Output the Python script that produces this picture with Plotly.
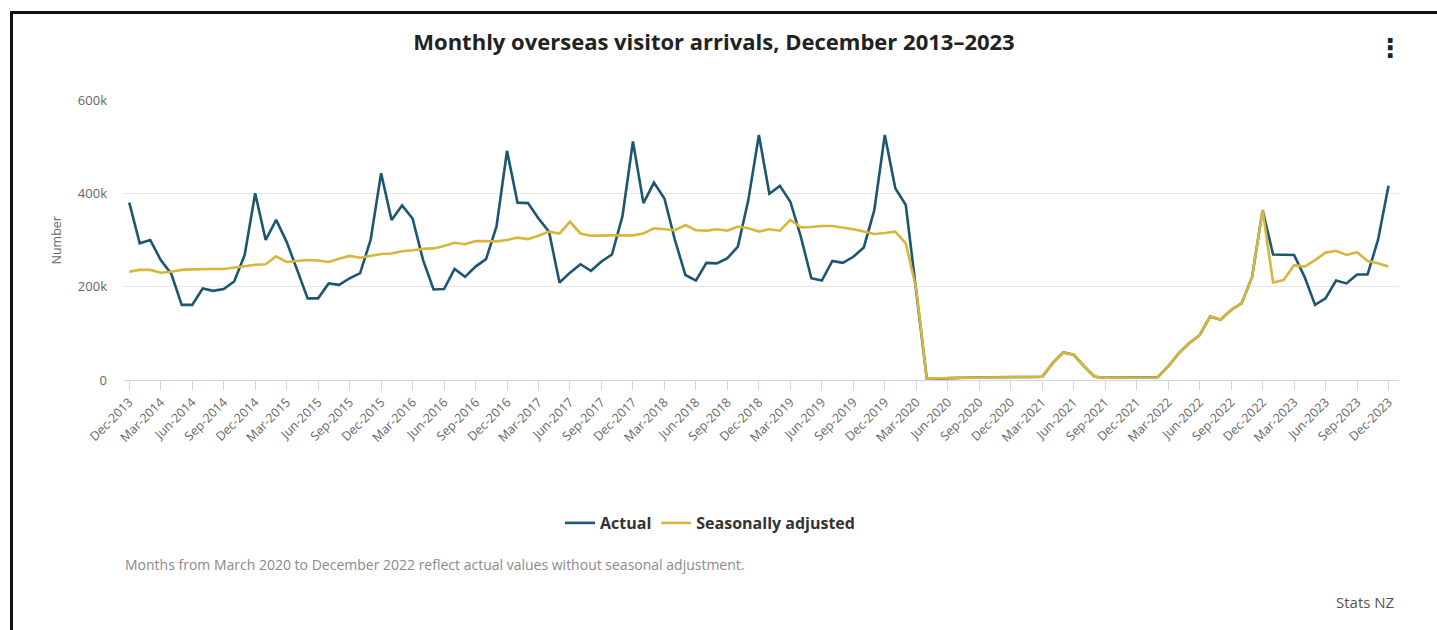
import pandas as pd
import plotly.graph_objects as go

# ---------------- data (thousands) ----------------
months = pd.date_range("2013-12-01", "2023-12-01", freq="MS")
month_labels = [d.strftime("%b-%Y") for d in months]

actual_k = [
    380, 293, 300, 257, 228, 161, 161, 196, 191, 195, 211, 268,
    400, 300, 343, 296, 236, 175, 175, 207, 204, 218, 229, 300,
    443, 343, 374, 346, 257, 194, 195, 238, 221, 243, 259, 329,
    491, 380, 379, 346, 318, 209, 230, 248, 234, 254, 269, 351,
    511, 379, 423, 389, 300, 225, 213, 251, 250, 261, 286, 386,
    525, 399, 416, 382, 307, 218, 213, 255, 251, 264, 284, 364,
    525, 411, 375, 195, 3, 3, 4, 5, 5, 6, 6, 6,
    6, 6, 6, 7, 36, 59, 54, 29, 7, 5, 5, 6,
    6, 6, 6, 29, 57, 79, 96, 136, 129, 150, 164, 221,
    364, 269, 269, 268, 221, 161, 175, 213, 207, 226, 226, 300,
    416,
]

# Seasonally adjusted: Dec 2013 - Feb 2020
seasonal_pre_k = [
    232, 236, 236, 230, 232, 236, 237, 238, 238, 238, 241, 245,
    247, 248, 265, 253, 255, 257, 256, 253, 260, 266, 262, 266,
    270, 271, 276, 278, 281, 282, 287, 294, 291, 298, 298, 297,
    300, 305, 302, 309, 318, 314, 339, 314, 309, 310, 310, 310,
    310, 314, 325, 323, 321, 332, 321, 320, 323, 320, 329, 325,
    318, 323, 320, 343, 327, 328, 330, 330, 327, 323, 318, 313,
    315, 318, 293,
]
# Seasonally adjusted: Jan 2023 - Dec 2023
seasonal_post_k = [209, 214, 246, 243, 257, 273, 277, 268, 274, 255, 250, 243]

# Mar 2020 - Dec 2022 reflect actual values (no seasonal adjustment)
n_pre = len(seasonal_pre_k)
n_post = len(seasonal_post_k)
gap_vals = actual_k[n_pre:len(actual_k) - n_post]
seasonal_k = seasonal_pre_k + gap_vals + seasonal_post_k

actual = [v * 1000 for v in actual_k]
seasonal = [v * 1000 for v in seasonal_k]

y_tick_vals = [0, 200000, 400000, 600000]
y_tick_text = ["0", "200k", "400k", "600k"]

title_text = "Monthly overseas visitor arrivals, December 2013\u20132023"
note_text = "Months from March 2020 to December 2022 reflect actual values without seasonal adjustment."
source_text = "Stats NZ"

# ---------------- layout geometry ----------------
W, H = 1437, 630
L, R, T, B = 124, 38, 100, 250
PW, PH = W - L - R, H - T - B

def px_x(px):
    return (px - L) / PW

def px_y(py):
    return (H - B - py) / PH

x_idx = list(range(len(months)))
tick_idx = x_idx[::3]
tick_txt = month_labels[::3]

BLUE = "#1c5670"
GOLD = "#d6b73c"
FONT = "Open Sans, Lato, sans-serif"

fig = go.Figure()
fig.add_trace(go.Scatter(x=x_idx, y=actual, mode="lines", name="Actual",
                         line=dict(color=BLUE, width=2.6)))
fig.add_trace(go.Scatter(x=x_idx, y=seasonal, mode="lines", name="Seasonally adjusted",
                         line=dict(color=GOLD, width=2.6)))

fig.update_layout(
    width=W, height=H,
    margin=dict(l=L, r=R, t=T, b=B, autoexpand=False),
    paper_bgcolor="white", plot_bgcolor="white",
    font=dict(family=FONT, color="#666"),
    title=dict(text="<b>" + title_text + "</b>", x=714 / W, xanchor="center",
               y=1 - 42 / H, yanchor="middle",
               font=dict(size=22, color="#222", family=FONT)),
    showlegend=True,
    legend=dict(orientation="h", x=px_x(710), xanchor="center", y=px_y(523), yanchor="middle",
                font=dict(size=16, color="#333", family=FONT, weight="bold"),
                itemwidth=30, tracegroupgap=0, bgcolor="rgba(0,0,0,0)"),
    hovermode=False,
)

fig.update_xaxes(
    range=[-0.5, 121.0], tickmode="array", tickvals=tick_idx, ticktext=tick_txt,
    tickangle=-45, ticks="outside", ticklen=9, tickcolor="#ccd6eb", tickwidth=1,
    showline=True, linecolor="#ccd6eb", linewidth=1, showgrid=False, zeroline=False,
    tickfont=dict(size=12.5, color="#666", family=FONT), fixedrange=True,
)
fig.update_yaxes(
    range=[0, 600000], tickmode="array", tickvals=y_tick_vals, ticktext=y_tick_text,
    showgrid=True, gridcolor="#e6e6e6", gridwidth=1, zeroline=False, showline=False,
    ticks="", ticklabelstandoff=16, tickfont=dict(size=13, color="#666", family=FONT),
    fixedrange=True,
)

annotations = [
    dict(text="Number", x=px_x(45), y=px_y(241), xref="paper", yref="paper",
         textangle=-90, showarrow=False, font=dict(size=12.5, color="#666", family=FONT)),
    dict(text=note_text, x=px_x(123), y=px_y(564), xref="paper", yref="paper",
         xanchor="left", yanchor="middle", showarrow=False,
         font=dict(size=14, color="#8a8a8a", family=FONT)),
    dict(text=source_text, x=px_x(1396), y=px_y(602), xref="paper", yref="paper",
         xanchor="right", yanchor="middle", showarrow=False,
         font=dict(size=15, color="#555", family=FONT)),
    dict(text="<b>\u22ee</b>", x=px_x(1390), y=px_y(48), xref="paper", yref="paper",
         xanchor="center", yanchor="middle", showarrow=False,
         font=dict(size=26, color="#222", family="DejaVu Sans")),
]
fig.update_layout(annotations=annotations)

shapes = [
    dict(type="line", xref="paper", yref="paper", x0=px_x(11.5), x1=px_x(11.5),
         y0=px_y(11), y1=px_y(H + 2), line=dict(color="#111", width=3)),
    dict(type="line", xref="paper", yref="paper", x0=px_x(10), x1=px_x(W + 2),
         y0=px_y(12.5), y1=px_y(12.5), line=dict(color="#111", width=3)),
]
fig.update_layout(shapes=shapes)

fig.write_html("out.html", config={"displayModeBar": False})
